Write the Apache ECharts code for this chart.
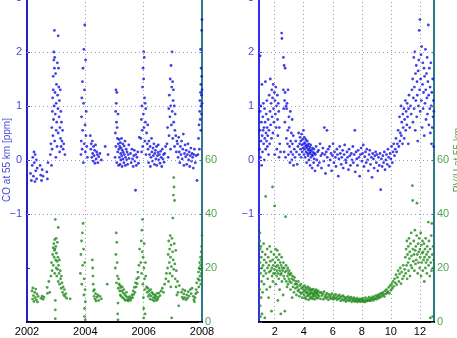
<!DOCTYPE html>
<html>
<head>
<meta charset="utf-8">
<script src="https://cdn.jsdelivr.net/npm/echarts@6.0.0/dist/echarts.min.js"></script>
<style>
  html, body { margin: 0; padding: 0; background: #fff; }
  #chart { width: 457px; height: 338px; }
</style>
</head>
<body>
<div id="chart"></div>
<script>
'use strict';

/* CO at 55 km, time series [year, ppm] */
var coYear = [
  [2002.12,-0.25],[2002.15,-0.38],[2002.18,-0.1],[2002.2,0.05],[2002.22,-0.3],[2002.24,0.15],[2002.25,-0.05],[2002.27,-0.4],[2002.28,0.1],[2002.3,-0.2],[2002.32,0.0],[2002.33,-0.35],[2002.35,-0.15],[2002.45,-0.1],[2002.47,-0.28],[2002.5,-0.38],[2002.52,-0.18],[2002.55,-0.3],[2002.68,-0.22],[2002.7,-0.35],[2002.72,-0.05],
  [2002.8,0.1],[2002.82,0.3],[2002.84,-0.1],[2002.85,0.6],[2002.86,0.2],[2002.87,0.9],[2002.88,1.15],[2002.89,0.45],[2002.9,1.55],[2002.9,1.3],[2002.91,0.75],[2002.92,1.85],[2002.92,2.0],[2002.93,1.0],[2002.94,2.4],[2002.94,1.7],[2002.95,0.35],[2002.95,1.9],[2002.96,1.25],[2002.97,0.85],[2002.98,1.6],[2002.99,0.05],[2003.0,1.05],[2003.0,0.55],[2003.01,1.4],[2003.02,0.7],[2003.03,0.25],[2003.04,1.8],[2003.05,1.2],[2003.06,0.95],[2003.07,2.3],[2003.07,0.5],[2003.08,1.7],[2003.09,1.35],[2003.1,0.8],[2003.11,1.1],[2003.12,0.15],[2003.13,0.6],[2003.14,1.3],[2003.15,0.4],[2003.16,0.9],[2003.17,0.25],[2003.18,0.7],[2003.2,0.35],[2003.22,0.55],[2003.24,0.2],[2003.26,0.3],[2003.3,0.1],
  [2003.85,0.1],[2003.86,0.35],[2003.87,0.8],[2003.88,1.15],[2003.89,0.2],[2003.9,1.45],[2003.91,0.55],[2003.92,1.7],[2003.93,-0.05],[2003.94,1.05],[2003.95,2.05],[2003.96,0.3],[2003.97,1.3],[2003.98,2.5],[2003.99,0.65],[2004.0,0.15],[2004.01,1.85],[2004.02,0.45],[2004.03,0.9],[2004.05,0.25],[2004.07,0.05],
  [2004.17,0.45],[2004.19,0.2],[2004.2,0.3],[2004.22,0.05],[2004.24,0.35],[2004.25,0.12],[2004.27,-0.02],[2004.28,0.25],[2004.3,0.08],[2004.32,0.18],[2004.33,-0.06],[2004.35,0.28],[2004.37,0.02],[2004.39,0.15],[2004.41,0.1],[2004.43,-0.05],[2004.46,0.06],[2004.5,0.12],[2004.55,0.0],[2004.68,0.25],[2004.78,0.1],
  [2005.02,0.05],[2005.03,0.5],[2005.04,0.9],[2005.05,1.3],[2005.05,0.25],[2005.06,1.05],[2005.07,0.7],[2005.08,-0.05],[2005.08,1.25],[2005.09,0.6],[2005.1,0.4],[2005.11,0.15],[2005.12,0.85],[2005.13,0.3],[2005.14,-0.1],[2005.15,0.2],[2005.16,0.38],[2005.17,0.05],[2005.18,0.25],[2005.19,-0.08],[2005.2,0.32],[2005.21,0.12],[2005.22,0.0],[2005.23,0.22],[2005.24,0.4],[2005.25,0.08],[2005.26,-0.12],[2005.27,0.18],[2005.28,0.3],[2005.29,0.02],[2005.3,0.14],[2005.32,-0.05],[2005.33,0.26],[2005.34,0.1],[2005.36,0.35],[2005.37,-0.1],[2005.38,0.05],[2005.4,0.2],[2005.42,0.0],[2005.43,0.15],[2005.45,-0.08],[2005.47,0.1],[2005.49,0.28],[2005.5,0.03],
  [2005.55,0.12],[2005.57,-0.05],[2005.6,0.2],[2005.62,0.02],[2005.64,-0.12],[2005.66,0.08],[2005.68,0.18],[2005.7,-0.02],[2005.72,-0.56],[2005.73,0.1],[2005.75,-0.1],[2005.77,0.05],[2005.8,0.15],[2005.82,-0.06],[2005.85,0.42],
  [2005.9,0.4],[2005.92,0.75],[2005.93,0.15],[2005.94,1.0],[2005.95,0.55],[2005.96,1.35],[2005.97,0.25],[2005.98,1.7],[2005.99,0.85],[2006.0,2.0],[2006.0,1.5],[2006.01,0.6],[2006.02,1.9],[2006.03,1.15],[2006.04,0.35],[2006.05,1.05],[2006.06,0.7],[2006.07,0.95],[2006.08,0.1],[2006.1,0.5],[2006.12,0.3],[2006.14,0.65],
  [2006.15,0.2],[2006.17,-0.05],[2006.18,0.35],[2006.2,0.1],[2006.22,0.25],[2006.23,-0.12],[2006.25,0.05],[2006.27,0.4],[2006.28,0.15],[2006.3,-0.02],[2006.32,0.22],[2006.33,0.08],[2006.35,0.3],[2006.37,-0.08],[2006.38,0.12],[2006.4,0.18],[2006.42,0.02],[2006.44,0.25],[2006.45,-0.1],[2006.47,0.08],[2006.49,0.14],[2006.5,0.28],[2006.52,0.0],[2006.54,0.1],[2006.56,-0.06],[2006.58,0.16],[2006.6,0.05],[2006.62,-0.12],[2006.64,0.2],[2006.66,0.02],[2006.68,0.1],[2006.7,-0.04],[2006.72,0.12],[2006.75,0.25],
  [2006.8,0.3],[2006.82,0.6],[2006.84,0.05],[2006.86,0.95],[2006.87,0.45],[2006.88,1.2],[2006.9,0.8],[2006.91,1.5],[2006.92,0.2],[2006.93,1.0],[2006.94,1.75],[2006.95,0.65],[2006.96,1.35],[2006.97,2.0],[2006.98,0.9],[2006.99,1.45],[2007.0,0.4],[2007.01,1.1],[2007.02,1.3],[2007.03,0.7],[2007.05,1.0],[2007.06,0.25],[2007.07,0.55],[2007.08,0.85],[2007.1,0.45],[2007.12,0.15],[2007.14,0.35],
  [2007.16,0.3],[2007.18,0.05],[2007.2,0.42],[2007.22,0.15],[2007.24,-0.05],[2007.26,0.25],[2007.28,0.1],[2007.3,0.35],[2007.32,0.02],[2007.34,0.2],[2007.36,0.48],[2007.38,-0.1],[2007.4,0.12],[2007.42,0.28],[2007.44,0.06],[2007.46,0.18],[2007.48,-0.08],[2007.5,0.1],[2007.52,0.3],[2007.54,0.0],[2007.56,0.15],[2007.58,-0.12],[2007.6,0.08],[2007.62,0.22],[2007.64,-0.02],[2007.66,0.12],[2007.68,0.05],[2007.7,-0.15],[2007.72,0.1],[2007.74,0.2],[2007.77,-0.05],[2007.8,0.08],[2007.83,-0.38],
  [2007.86,0.1],[2007.88,0.4],[2007.9,0.65],[2007.91,0.2],[2007.92,0.9],[2007.93,1.1],[2007.94,0.75],[2007.95,1.25],[2007.95,2.05],[2007.96,0.55],[2007.96,1.4],[2007.97,1.0],[2007.97,1.7],[2007.98,1.2],[2007.98,0.85],[2007.99,1.55],[2007.99,2.4],[2008.0,1.3],[2008.0,2.6],[2008.0,1.05]
];

/* PV/U at 55 km, time series [year, pvu] */
var pvYear = [
  [2002.17,11.5],[2002.19,8.5],[2002.2,12.6],[2002.22,9.8],[2002.24,7.6],[2002.26,11.0],[2002.28,9.0],[2002.3,12.2],[2002.32,8.2],[2002.34,10.4],[2002.36,7.4],[2002.38,9.5],[2002.48,8.8],[2002.52,9.6],[2002.55,8.4],[2002.58,9.2],[2002.69,12.8],[2002.7,10.6],[2002.75,15.0],[2002.78,11.0],
  [2002.82,17],[2002.84,22],[2002.86,19],[2002.88,25],[2002.9,27.5],[2002.9,21],[2002.92,29],[2002.93,24],[2002.94,26.5],[2002.95,30.5],[2002.95,18],[2002.96,27],[2002.97,38],[2002.97,8],[2002.97,4.5],[2002.97,1.2],[2002.98,23],[2002.99,28],[2003.0,31],[2003.0,20],[2003.01,25.5],[2003.02,17],[2003.03,22.5],[2003.04,29.5],[2003.05,19.5],[2003.06,24],[2003.07,35],[2003.07,15],[2003.08,21],[2003.1,18],[2003.11,23],[2003.12,14],[2003.14,19],[2003.15,16],[2003.17,12.5],[2003.18,17],[2003.2,14.5],[2003.22,11],[2003.24,13],[2003.26,10],[2003.28,12],[2003.3,9.5],[2003.33,10.5],[2003.36,8.8],[2003.48,8.6],
  [2003.83,18],[2003.85,25],[2003.87,30],[2003.88,14],[2003.9,33],[2003.91,21],[2003.92,36.5],[2003.94,27],[2003.95,10],[2003.96,16],[2003.97,5],[2003.97,2],[2003.98,22],[2003.99,12],[2004.0,7.5],[2004.0,0.8],
  [2004.24,23],[2004.25,20],[2004.26,17],[2004.27,14],[2004.28,11.5],[2004.3,9.5],[2004.31,12],[2004.33,8.5],[2004.35,10.5],[2004.37,7.8],[2004.4,9.2],[2004.43,10],[2004.46,8],[2004.5,9.5],[2004.55,8.6],[2004.75,14],
  [2005.03,20],[2005.05,25],[2005.06,33],[2005.07,14.5],[2005.08,29.5],[2005.09,22],[2005.1,17],[2005.11,3],[2005.12,0.8],[2005.12,7],[2005.13,12.5],[2005.14,16],
  [2005.16,14],[2005.18,11.5],[2005.19,13.5],[2005.2,10],[2005.22,12.8],[2005.23,9.5],[2005.25,11.5],[2005.27,13],[2005.28,9],[2005.3,10.8],[2005.32,12],[2005.33,8.6],[2005.35,10.2],[2005.37,8],[2005.39,9.6],[2005.41,11],[2005.43,8.2],[2005.45,9.2],[2005.47,7.8],[2005.5,8.5],[2005.52,9.4],[2005.55,8],[2005.57,8.8],[2005.6,10],[2005.62,9],[2005.64,11.5],[2005.66,10.2],[2005.68,12.8],[2005.7,11],[2005.72,14.5],[2005.74,13],[2005.76,16],[2005.78,14.2],[2005.8,18.5],[2005.82,16.5],[2005.84,21],[2005.86,27],
  [2005.9,22],[2005.92,30],[2005.93,18],[2005.94,34],[2005.95,26],[2005.96,38],[2005.97,14],[2005.98,24],[2005.99,9],[2006.0,5],[2006.0,1.5],[2006.01,20],[2006.02,29],[2006.03,16],[2006.04,12],[2006.05,3],[2006.06,22],[2006.07,17],
  [2006.1,13],[2006.12,11],[2006.14,12.5],[2006.16,9.5],[2006.18,11.5],[2006.2,10.2],[2006.22,8.5],[2006.24,12],[2006.26,9.6],[2006.28,11],[2006.3,8.2],[2006.32,10.4],[2006.34,9],[2006.36,7.8],[2006.38,10],[2006.4,8.8],[2006.42,9.5],[2006.44,8],[2006.46,10.6],[2006.48,8.4],[2006.5,9.2],[2006.53,10.8],[2006.56,9.8],[2006.6,11.5],[2006.64,12.5],[2006.68,11],[2006.72,14],[2006.76,16],[2006.78,18],
  [2006.82,20],[2006.84,25],[2006.85,15],[2006.86,30],[2006.88,22],[2006.89,27],[2006.9,18],[2006.91,32],[2006.92,24],[2006.93,13],[2006.94,28.5],[2006.95,20.5],[2006.96,1.5],[2006.97,31],[2006.98,17],[2006.99,26],[2007.0,38.5],[2007.01,23],[2007.02,47],[2007.03,53.5],[2007.03,19.5],[2007.04,50],[2007.05,29],[2007.06,45],[2007.07,21.5],[2007.08,16],[2007.1,26.5],[2007.11,13],[2007.12,19],[2007.14,10],[2007.16,15],[2007.18,11],[2007.2,6],[2007.22,13.5],
  [2007.3,11],[2007.32,9.2],[2007.34,12],[2007.36,8.5],[2007.38,10.4],[2007.4,9],[2007.42,11.6],[2007.45,8.2],[2007.48,10],[2007.5,8.8],[2007.53,11.2],[2007.56,9.6],[2007.6,12],[2007.63,10.5],[2007.66,12.5],[2007.7,9.5],[2007.72,8.2],[2007.74,7.5],[2007.76,9],[2007.78,10.5],
  [2007.8,12],[2007.82,14.5],[2007.84,11],[2007.86,16],[2007.88,18.5],[2007.89,13],[2007.9,20],[2007.91,15.5],[2007.92,22],[2007.93,17],[2007.94,19.5],[2007.95,24],[2007.96,14],[2007.96,21],[2007.97,26],[2007.98,18],[2007.98,23],[2007.99,28],[2008.0,32],[2008.0,20]
];

/* CO by month of year [month, ppm] */
var coMonth = [
  [0.96,0.2],[0.98,0.55],[1.0,1.93],[1.0,0.9],[1.02,0.05],[1.04,1.0],[1.06,0.35],[1.08,0.7],[1.1,-0.1],[1.12,1.4],[1.14,0.45],[1.16,0.15],[1.18,0.8],[1.2,0.55],[1.22,1.05],[1.24,0.3],[1.26,0.6],[1.28,0.0],[1.3,0.95],[1.32,0.4],[1.34,0.7],[1.36,1.45],[1.38,0.2],[1.4,0.5],[1.42,0.85],[1.44,0.35],[1.46,1.1],[1.48,0.6],[1.5,0.25],[1.52,0.45],[1.55,0.75],[1.58,0.1],[1.6,0.55],[1.62,1.2],[1.65,0.3],[1.68,0.9],[1.7,1.5],[1.72,0.65],[1.75,1.05],[1.78,0.4],[1.8,1.3],[1.82,0.8],[1.85,1.15],[1.88,0.5],[1.9,1.4],[1.92,0.95],[1.95,0.7],[1.98,1.25],
  [2.0,0.1],[2.02,1.1],[2.05,0.85],[2.08,1.35],[2.1,0.6],[2.12,1.0],[2.15,0.2],[2.18,1.2],[2.2,0.75],[2.22,0.45],[2.25,1.05],[2.28,0.9],[2.3,0.05],[2.32,0.6],[2.35,0.3],[2.4,0.15],[2.48,2.35],[2.5,2.25],[2.6,1.9],[2.65,1.75],[2.72,1.7],[2.6,1.3],[2.62,0.95],[2.65,0.15],[2.68,1.1],[2.7,0.7],[2.72,1.25],[2.75,0.05],[2.78,1.0],[2.8,0.4],[2.82,0.95],[2.85,1.05],[2.88,0.3],[2.9,0.55],[2.92,1.3],[2.95,0.1],[2.98,0.8],
  [3.0,0.6],[3.02,0.25],[3.05,-0.05],[3.08,0.9],[3.1,0.35],[3.12,0.15],[3.15,0.5],[3.18,0.0],[3.2,0.75],[3.22,0.3],[3.25,0.1],[3.28,0.45],[3.3,-0.1],[3.35,0.2],[3.4,0.05],[3.45,0.35],[3.5,0.15],[3.55,-0.08],[3.6,0.25],[3.65,0.5],[3.7,0.1],[3.72,0.3],[3.75,0.42],[3.78,0.2],[3.8,0.35],[3.82,0.05],[3.85,0.48],[3.88,0.28],[3.9,0.15],[3.92,0.38],[3.95,0.22],[3.98,0.55],
  [4.0,0.3],[4.02,0.1],[4.04,0.42],[4.06,0.2],[4.08,0.32],[4.1,0.05],[4.12,0.25],[4.14,0.38],[4.16,0.15],[4.18,0.28],[4.2,-0.05],[4.22,0.22],[4.24,0.35],[4.26,0.12],[4.28,0.26],[4.3,0.08],[4.32,0.18],[4.34,0.3],[4.36,0.0],[4.38,0.2],[4.4,0.12],[4.42,0.24],[4.44,-0.1],[4.46,0.15],[4.48,0.28],[4.5,0.05],[4.52,0.18],[4.55,0.1],[4.58,-0.15],[4.6,0.22],[4.62,0.08],[4.65,0.14],[4.68,-0.05],[4.7,0.2],[4.72,0.02],[4.75,0.12],[4.78,-0.2],[4.8,0.1],[4.85,0.25],[4.9,0.0],[4.95,0.15],[4.98,-0.1],
  [5.02,0.18],[5.08,-0.05],[5.12,0.3],[5.18,0.08],[5.22,-0.15],[5.28,0.12],[5.32,0.22],[5.38,-0.02],[5.42,0.6],[5.45,0.1],[5.5,-0.25],[5.55,0.15],[5.6,0.55],[5.62,0.05],[5.68,0.2],[5.72,-0.1],[5.78,0.25],[5.82,0.0],[5.88,0.12],[5.92,-0.2],[5.98,0.08],[6.02,0.3],[6.08,-0.05],[6.12,0.15],[6.18,0.05],[6.22,-0.12],[6.28,0.2],[6.32,0.1],[6.38,-0.3],[6.42,0.02],[6.48,0.25],[6.52,0.12],[6.58,-0.08],[6.62,0.05],[6.68,0.18],[6.72,-0.15],[6.78,0.1],[6.82,0.28],[6.88,0.0],[6.92,-0.05],[6.98,0.15],
  [7.02,0.05],[7.08,-0.18],[7.12,0.2],[7.18,0.08],[7.22,-0.1],[7.28,0.12],[7.32,0.0],[7.38,0.25],[7.42,-0.05],[7.48,0.1],[7.52,0.55],[7.55,-0.22],[7.6,0.15],[7.65,0.02],[7.7,-0.1],[7.75,0.18],[7.8,0.05],[7.85,-0.3],[7.9,0.1],[7.95,0.22],[8.0,-0.02],[8.05,0.12],[8.1,0.28],[8.15,-0.12],[8.2,0.06],[8.25,0.15],[8.3,-0.05],[8.35,0.2],[8.4,0.0],[8.45,-0.2],[8.5,0.1],[8.55,0.18],[8.6,-0.08],[8.65,0.05],[8.7,-0.32],[8.75,0.12],[8.8,0.02],[8.85,-0.15],[8.9,0.08],[8.95,0.15],
  [9.0,-0.05],[9.05,0.1],[9.1,-0.2],[9.15,0.05],[9.2,-0.1],[9.25,0.12],[9.3,-0.55],[9.35,0.02],[9.4,-0.12],[9.45,0.08],[9.5,-0.05],[9.55,0.15],[9.6,-0.18],[9.65,0.0],[9.7,0.1],[9.75,-0.08],[9.8,0.2],[9.85,0.05],[9.9,-0.12],[9.95,0.12],[10.0,0.02],[10.05,0.25],[10.1,-0.05],[10.15,0.15],[10.2,0.3],[10.25,0.08],
  [10.3,0.2],[10.35,0.4],[10.4,0.15],[10.45,0.3],[10.5,0.55],[10.55,0.25],[10.6,0.8],[10.62,0.35],[10.65,0.5],[10.7,1.0],[10.72,0.45],[10.75,0.7],[10.8,0.3],[10.82,0.85],[10.85,0.6],[10.9,0.95],[10.92,0.4],[10.95,0.75],[11.0,1.1],[11.02,0.55],[11.05,0.9],[11.1,0.65],[11.12,1.05],[11.15,0.8],[11.2,0.3],[11.22,0.95],[11.25,1.2],[11.3,0.6],[11.35,1.0],[11.4,0.85],[11.45,1.3],
  [11.5,1.5],[11.52,0.7],[11.55,1.15],[11.58,1.9],[11.6,0.95],[11.62,1.35],[11.65,2.0],[11.68,0.55],[11.7,1.6],[11.72,1.1],[11.75,1.75],[11.78,0.8],[11.8,1.45],[11.82,1.2],[11.85,0.35],[11.88,1.65],[11.9,1.0],[11.92,1.85],[11.95,2.4],[11.98,1.3],[12.0,2.6],[12.02,0.9],[12.05,1.5],[12.08,1.95],[12.1,1.1],[12.12,2.1],[12.15,0.6],[12.18,1.4],[12.2,1.8],[12.22,0.95],[12.25,1.25],[12.28,1.7],[12.3,0.45],[12.32,1.55],[12.35,1.05],[12.38,2.05],[12.4,1.3],[12.42,0.75],[12.45,1.6],[12.48,1.15],[12.5,1.9],[12.52,0.85],[12.55,1.45],[12.58,2.5],[12.6,1.2],[12.62,0.65],[12.65,1.7],[12.68,0.95],[12.7,1.35],[12.72,0.5],[12.75,1.8],[12.78,1.0],[12.8,0.3],[12.82,1.25],[12.85,0.6],[12.88,1.5],[12.9,0.8],[12.93,1.1],[12.95,0.25],[12.96,0.9]
];

/* PV/U by month of year [month, pvu] */
var pvMonth = [
  [0.96,30],[0.97,12],[0.98,33],[0.99,22],[1.0,6],[1.0,27],[1.02,2],[1.03,18],[1.05,28],[1.06,9],[1.08,24],[1.1,15],[1.12,20],[1.13,3],[1.15,26],[1.17,11],[1.2,21],[1.22,17],[1.24,29],[1.26,14],[1.28,23],[1.3,19],[1.32,1.5],[1.35,25],[1.38,46.5],[1.4,18],[1.42,22],[1.45,12],[1.48,27],[1.5,20],[1.52,16],[1.55,24],[1.58,9],[1.6,21],[1.62,18.5],[1.65,28],[1.68,13],[1.7,22.5],[1.72,19],[1.75,26],[1.78,4],[1.8,20],[1.82,17],[1.85,50],[1.86,23],[1.88,15],[1.9,21],[1.92,18],[1.95,25],[1.98,19.5],
  [2.0,43],[2.02,22],[2.04,18],[2.06,27],[2.08,14],[2.1,20.5],[2.12,24],[2.14,17],[2.16,19],[2.18,26.5],[2.2,21],[2.22,8],[2.24,18],[2.26,23],[2.28,16],[2.3,20],[2.32,25],[2.34,12],[2.36,19],[2.38,22],[2.4,17.5],[2.42,3],[2.44,21],[2.46,18],[2.48,24],[2.5,15],[2.52,20],[2.55,19],[2.58,10],[2.6,22],[2.62,17],[2.65,20],[2.68,16],[2.7,4],[2.72,18.5],[2.75,39],[2.78,21],[2.8,15],[2.82,19],[2.85,13],[2.88,17],[2.9,20],[2.92,14],[2.95,18],[2.98,16],
  [3.0,19],[3.03,15],[3.06,17.5],[3.09,12],[3.12,18],[3.15,14.5],[3.18,16],[3.2,9],[3.23,17],[3.26,13],[3.3,15.5],[3.33,11],[3.36,16.5],[3.4,14],[3.43,12.5],[3.46,15],[3.5,10],[3.53,14],[3.56,13],[3.6,11.5],[3.63,15],[3.66,12],[3.7,9.5],[3.73,13.5],[3.76,11],[3.8,14],[3.83,10.5],[3.86,12.5],[3.9,9],[3.93,13],[3.96,11],
  [4.0,12],[4.03,10],[4.05,13.5],[4.08,9],[4.1,11.5],[4.13,12.8],[4.15,8.5],[4.18,10.8],[4.2,12.2],[4.23,9.5],[4.25,11],[4.28,13],[4.3,10.2],[4.33,8.2],[4.35,11.8],[4.38,9.8],[4.4,12.5],[4.43,10.5],[4.45,8.8],[4.48,11.2],[4.5,12],[4.53,9.2],[4.55,10.6],[4.58,11.8],[4.6,8.6],[4.63,10],[4.65,12.2],[4.68,9.4],[4.7,11],[4.73,10.4],[4.75,8.4],[4.78,11.5],[4.8,9.8],[4.83,10.8],[4.85,12],[4.88,9],[4.9,10.5],[4.93,11.2],[4.95,8.8],[4.98,10],
  [5.0,11.5],[5.05,9.5],[5.1,10.8],[5.15,8.6],[5.2,11],[5.25,9.8],[5.3,10.4],[5.35,8.4],[5.4,11.2],[5.45,9.2],[5.5,10],[5.55,8.8],[5.6,10.6],[5.65,9.4],[5.7,8.2],[5.75,10.2],[5.8,9],[5.85,9.8],[5.9,8.6],[5.95,10.5],[6.0,9.2],[6.05,8.4],[6.1,9.8],[6.15,8.8],[6.2,10.2],[6.25,9],
  [6.3,8.2],[6.35,9.6],[6.4,8.6],[6.45,10],[6.5,9],[6.55,7.8],[6.6,9.4],[6.65,8.4],[6.7,9.8],[6.75,8],[6.8,9.2],[6.85,8.6],[6.9,7.6],[6.95,9],[7.0,8.2],[7.05,9.4],[7.1,7.8],[7.15,8.8],[7.2,8.2],[7.25,9.2],[7.3,7.5],[7.35,8.6],[7.4,8],[7.45,9],[7.5,7.6],[7.55,8.4],[7.6,7.8],[7.65,8.8],[7.7,7.4],[7.75,8.2],[7.8,7.9],[7.85,8.6],[7.9,7.5],[7.95,8.4],
  [8.0,7.8],[8.05,8.8],[8.1,7.6],[8.15,8.2],[8.2,7.4],[8.25,9],[8.3,8],[8.35,7.7],[8.4,8.6],[8.45,7.9],[8.5,9.2],[8.55,8.2],[8.6,7.8],[8.65,8.8],[8.7,8.4],[8.75,9.4],[8.8,8],[8.85,9],[8.9,8.6],[8.95,9.8],[9.0,8.4],[9.05,9.2],[9.1,10],[9.15,8.8],[9.2,9.6],[9.25,10.4],
  [9.3,9.2],[9.35,10.6],[9.4,9.8],[9.45,11],[9.5,10.2],[9.55,9.4],[9.6,11.5],[9.65,10.4],[9.7,12],[9.75,10.8],[9.8,11.2],[9.85,12.8],[9.9,10.6],[9.95,13.5],[10.0,11.8],[10.05,14],[10.1,12.5],[10.15,15],[10.2,13.2],[10.25,16],[10.3,14.5],[10.35,17.5],[10.4,13.8],[10.45,16.5],[10.5,19],[10.55,15],[10.6,17.8],[10.65,20],[10.7,14.2],[10.75,18.5],[10.8,16],[10.85,21],[10.9,17],[10.95,19.5],
  [11.0,24],[11.02,18],[11.05,27],[11.08,21],[11.1,30],[11.12,16],[11.15,25],[11.18,22],[11.2,28],[11.22,19],[11.25,31],[11.28,23.5],[11.3,26],[11.32,17],[11.35,29],[11.38,21],[11.4,33],[11.42,24.5],[11.45,20],[11.48,50.5],[11.5,45],[11.52,27],[11.55,22.5],[11.58,30],[11.6,25],[11.62,19],[11.65,34],[11.68,26.5],[11.7,21.5],[11.72,28],[11.75,23],[11.78,32],[11.8,44],[11.82,25],[11.85,18],[11.88,29],[11.9,22],[11.92,26],[11.95,31],[11.98,20],
  [12.0,27],[12.02,24],[12.05,33],[12.08,17],[12.1,28.5],[12.12,22],[12.15,25.5],[12.18,30],[12.2,19],[12.22,26],[12.25,23],[12.28,29],[12.3,15],[12.32,24],[12.35,27],[12.38,20],[12.4,31],[12.42,22],[12.45,25],[12.48,18],[12.5,28],[12.52,23],[12.55,26],[12.58,37],[12.6,21],[12.62,30],[12.65,24],[12.68,17],[12.7,27],[12.72,1.5],[12.75,22],[12.78,32],[12.8,19],[12.82,36.5],[12.85,25],[12.88,2],[12.9,28],[12.92,20],[12.95,23]
];

/* CO levels that get a dotted guide line */
var coGuides = [-1, 0, 1, 2, 3];

var coName = 'CO at 55 km [ppm]';
var pvName = 'PV/U at 55 km';

var blue = '#1010e0';
var green = '#1f8a1c';
var blueText = '#4a4ad8';
var greenText = '#4ea64e';
var font = 'Liberation Sans, Arial, sans-serif';

function minus(v) {
  return v < 0 ? '\u2212' + (-v) : String(v);
}

function coAxis(grid, lineColor, name) {
  return {
    type: 'value', gridIndex: grid, position: 'left',
    min: -3, max: 3, interval: 1,
    name: name, nameLocation: 'middle', nameGap: 15, nameRotate: 90,
    nameMoveOverlap: false,
    nameTextStyle: { color: blueText, fontSize: 10, fontFamily: font },
    axisLine: { show: true, onZero: false, lineStyle: { color: lineColor, width: 2 } },
    axisTick: { show: true, inside: true, length: 3, lineStyle: { color: lineColor } },
    axisLabel: {
      color: blueText, fontSize: 11, fontFamily: font, margin: 5,
      formatter: function (v) { return v < -1 ? '' : minus(v); }
    },
    splitLine: { show: false }
  };
}

function pvAxis(grid, name) {
  return {
    type: 'value', gridIndex: grid, position: 'right',
    min: 0, max: 120, interval: 20,
    name: name, nameLocation: 'middle', nameGap: 15, nameRotate: 90,
    nameTextStyle: { color: greenText, fontSize: 10, fontFamily: font },
    axisLine: { show: true, onZero: false, lineStyle: { color: '#2f7a88', width: 2 } },
    axisTick: { show: true, inside: true, length: 3, lineStyle: { color: '#2f7a88' } },
    axisLabel: {
      color: greenText, fontSize: 11, fontFamily: font, margin: 3,
      formatter: function (v) { return v > 60 ? '' : String(v); }
    },
    splitLine: { show: false }
  };
}

var guideLines = {
  silent: true,
  symbol: 'none',
  label: { show: false },
  lineStyle: { color: '#9a9ae8', type: [1, 3], width: 1 },
  data: coGuides.map(function (v) { return { yAxis: v }; })
};

var xLine = { show: true, onZero: false, lineStyle: { color: '#000', width: 2 } };
var xGrid = { show: true, lineStyle: { color: '#999', type: [1, 3], width: 1 } };

var chart = echarts.init(document.getElementById('chart'), null, { renderer: 'canvas' });

var option = {
  animation: false,
  backgroundColor: '#fff',
  grid: [
    { left: 27, top: -2, width: 175, height: 324, outerBoundsMode: 'none' },
    { left: 259, top: -2, width: 175, height: 324, outerBoundsMode: 'none' }
  ],
  xAxis: [
    {
      type: 'value', gridIndex: 0, min: 2002, max: 2008, interval: 2,
      axisLine: xLine, axisTick: { show: false },
      axisLabel: { color: '#000', fontSize: 11, fontFamily: font, margin: 4,
        formatter: function (v) { return String(v); } },
      splitLine: xGrid
    },
    {
      type: 'value', gridIndex: 1, min: 0.92, max: 12.97, splitNumber: 6,
      axisLine: xLine, axisTick: { show: false },
      axisLabel: { color: '#000', fontSize: 11, fontFamily: font, margin: 4,
        showMinLabel: false, showMaxLabel: false },
      splitLine: xGrid
    }
  ],
  yAxis: [
    coAxis(0, '#2323c8', coName),
    pvAxis(0, ''),
    coAxis(1, '#2f2ff0', ''),
    pvAxis(1, pvName)
  ],
  series: [
    { type: 'scatter', xAxisIndex: 0, yAxisIndex: 1, data: pvYear, symbolSize: 2.8, itemStyle: { color: green } },
    { type: 'scatter', xAxisIndex: 0, yAxisIndex: 0, data: coYear, symbolSize: 2.8, itemStyle: { color: blue }, markLine: guideLines },
    { type: 'scatter', xAxisIndex: 1, yAxisIndex: 3, data: pvMonth, symbolSize: 2.8, itemStyle: { color: green } },
    { type: 'scatter', xAxisIndex: 1, yAxisIndex: 2, data: coMonth, symbolSize: 2.8, itemStyle: { color: blue }, markLine: guideLines }
  ]
};

chart.setOption(option);
window.addEventListener('resize', function () {
  chart.resize();
});
</script>
</body>
</html>
